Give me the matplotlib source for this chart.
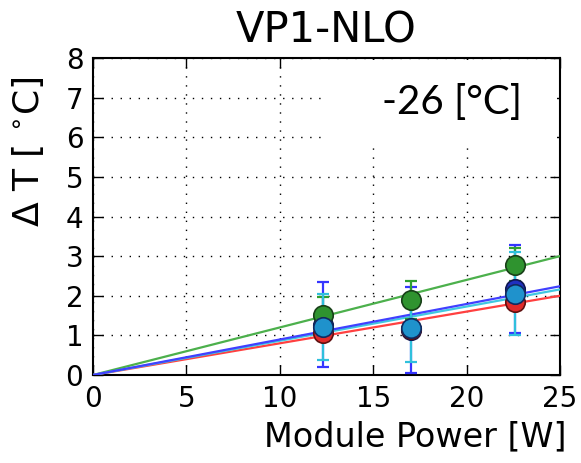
import matplotlib
matplotlib.use("Agg")
import matplotlib.pyplot as plt
from matplotlib.patches import Rectangle
import numpy as np

# ---- data ----
power = [12.3, 17.0, 22.6]
dt_blue = [1.27, 1.14, 2.17]
err_blue = [1.07, 1.08, 1.10]
dt_red = [1.06, 1.15, 1.85]
dt_green = [1.52, 1.89, 2.78]
err_green = [0.45, 0.47, 0.42]
dt_cyan = [1.21, 1.19, 2.05]
err_cyan = [0.83, 0.85, 1.05]
slope_blue = 0.0896
slope_red = 0.080
slope_green = 0.120
slope_cyan = 0.0864
x_fit = [0, 25]
title = "VP1-NLO"
annotation = "-26 [°C]"
xticks = [0, 5, 10, 15, 20, 25]
yticks = [0, 1, 2, 3, 4, 5, 6, 7, 8]

fig = plt.figure(figsize=(5.81, 4.63), dpi=100)
ax = fig.add_axes([93/581, 1-375/463, (560-93)/581, (375-58)/463])

# fit lines
xf = np.array(x_fit, dtype=float)
ax.plot(xf, slope_green*xf, color='#4cb04c', lw=1.6, zorder=3)
ax.plot(xf, slope_red*xf, color='#ff4040', lw=1.6, zorder=3)
ax.plot(xf, slope_cyan*xf, color='#40c8e0', lw=1.6, zorder=3)
ax.plot(xf, slope_blue*xf, color='#4040ff', lw=1.6, zorder=3)

# error bars
ax.errorbar(power, dt_blue, yerr=err_blue, fmt='none', ecolor='#3535ff',
            elinewidth=1.6, capsize=4.5, capthick=1.6, zorder=4)
ax.errorbar(power, dt_green, yerr=err_green, fmt='none', ecolor='#30a030',
            elinewidth=1.6, capsize=4.5, capthick=1.6, zorder=4.2)
ax.errorbar(power, dt_cyan, yerr=err_cyan, fmt='none', ecolor='#30c0dc',
            elinewidth=1.6, capsize=4.5, capthick=1.6, zorder=4.4)

# markers
ms = 14
ax.plot(power, dt_blue, 'o', ms=ms, mfc='#2030c0', mec='#101850', mew=1.2, zorder=5)
ax.plot(power, dt_red, 'o', ms=ms, mfc='#e02a2a', mec='#601010', mew=1.2, zorder=5.1)
ax.plot(power, dt_green, 'o', ms=ms, mfc='#2f932f', mec='#184018', mew=1.2, zorder=5.2)
ax.plot(power, dt_cyan, 'o', ms=ms, mfc='#1f92cc', mec='#102a60', mew=1.2, zorder=5.3)

ax.set_xlim(0, 25)
ax.set_ylim(0, 8)
ax.set_xticks(xticks)
ax.set_yticks(yticks)
ax.grid(True, color='black', linestyle=(0, (1, 5.5)), linewidth=1)
ax.tick_params(direction='in', top=True, right=True, length=7, width=1,
               labelsize=20, colors='black')
ax.tick_params(axis='x', pad=7)
ax.tick_params(axis='y', pad=7)
for s in ax.spines.values():
    s.set_linewidth(1.5)

ax.set_title(title, fontsize=30, pad=11)
ax.set_xlabel("Module Power [W]", fontsize=24, ha='center', va='center')
ax.xaxis.set_label_coords((415-93)/467, (375-437)/317)
ax.set_ylabel(r"$\Delta$ T [ $^{\circ}$C]", fontsize=26, ha='center', va='center')
ax.yaxis.set_label_coords((28-93)/467, (375-152)/317)

# white box with annotation
ax.add_patch(Rectangle((0.497, 0.735), 0.497, 0.259, transform=ax.transAxes,
                       facecolor='white', edgecolor='none', zorder=2))
ax.text((452-93)/467, (375-103)/317, annotation, transform=ax.transAxes,
        fontsize=29, family=['Lato', 'DejaVu Sans'], ha='center', va='center', zorder=6)

fig.savefig("out.png", dpi=100)
